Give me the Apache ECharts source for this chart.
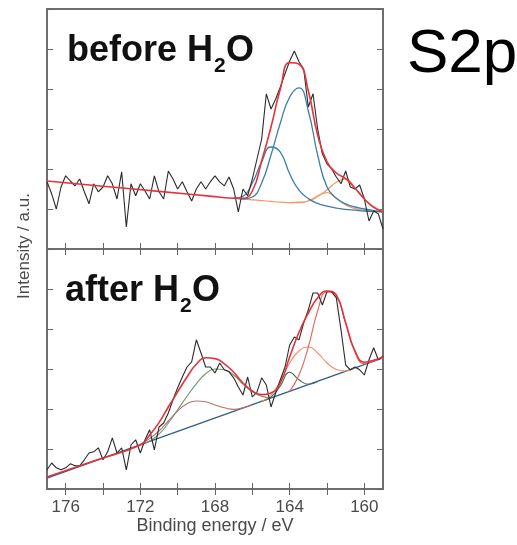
<!DOCTYPE html>
<html><head><meta charset="utf-8">
<script src="https://cdn.jsdelivr.net/npm/echarts@6/dist/echarts.min.js"></script>
<style>html,body{margin:0;padding:0;background:#fff}#c{width:517px;height:545px}</style>
</head><body><div id="c"></div>
<script>
// Binding energy grid of the measured spectra (eV)
const energies = [177,176.75,176.5,176.25,176,175.75,175.5,175.25,175,174.75,174.5,174.25,174,173.75,173.5,173.25,173,172.75,172.5,172.25,172,171.75,171.5,171.25,171,170.75,170.5,170.25,170,169.75,169.5,169.25,169,168.75,168.5,168.25,168,167.75,167.5,167.25,167,166.75,166.5,166.25,166,165.75,165.5,165.25,165,164.75,164.5,164.25,164,163.75,163.5,163.25,163,162.75,162.5,162.25,162,161.75,161.5,161.25,161,160.75,160.5,160.25,160,159.75,159.5,159.25,159];

// "before H2O" measured intensity (a.u.)
const beforeSignal = [1.68,1.38,1.00,1.55,1.83,1.70,1.58,1.75,1.43,1.13,1.63,1.43,1.55,1.83,1.63,1.25,1.93,0.55,1.63,1.33,1.63,1.45,1.25,1.83,1.43,1.25,1.95,1.75,1.50,1.68,1.43,1.20,1.50,1.68,1.50,1.68,1.83,1.68,1.58,1.80,1.50,0.93,1.50,1.33,1.75,2.25,2.75,3.88,3.50,3.75,4.05,4.38,4.70,4.95,4.68,4.50,3.55,3.88,3.00,2.38,2.13,2.00,1.80,1.63,1.95,1.55,1.50,1.60,1.25,0.70,0.95,0.88,0.50];
// "after H2O" measured intensity (a.u.)
const afterSignal = [0.48,0.65,0.53,0.48,0.53,0.63,0.58,0.58,0.73,0.90,0.93,1.03,0.73,0.93,1.28,0.90,1.03,0.48,1.10,1.23,0.90,1.23,1.48,0.98,1.55,1.65,1.90,2.23,2.53,2.80,3.05,3.18,3.73,3.40,3.05,3.05,2.90,3.15,2.98,2.93,2.78,2.55,2.35,2.80,2.30,2.43,2.78,2.60,2.05,2.40,2.73,3.05,3.60,3.80,3.73,4.15,4.48,4.90,4.90,4.60,4.93,4.93,4.78,3.98,3.10,2.98,3.05,2.98,2.85,3.23,3.53,3.23,3.33];

// Fitted curves, [energy, intensity]
const beforeEnvelope = [[177,1.70],[174,1.57],[171,1.44],[168,1.31],[167,1.27],[166.5,1.27],[166,1.45],[165.5,2.20],[165,3.05],[164.5,4.00],[164,4.66],[163.5,4.62],[163,3.95],[162.5,2.85],[162,2.18],[161.5,1.90],[161,1.76],[160.5,1.52],[160,1.25],[159.5,1.04],[159,0.93]];
const beforeBlueMain = [[167,1.27],[166.5,1.25],[166,1.30],[165.5,1.65],[165,2.35],[164.5,3.15],[164,3.80],[163.5,4.03],[163,3.45],[162.5,2.35],[162,1.55],[161.5,1.27],[161,1.13],[160.5,1.05],[160,1.00],[159.5,0.96],[159,0.93]];
const beforeBlueSide = [[167,1.27],[166.5,1.32],[166,1.65],[165.5,2.18],[165,2.55],[164.5,2.42],[164,1.88],[163.5,1.47],[163,1.26],[162.5,1.14],[162,1.07],[161.5,1.02],[161,0.99],[160.5,0.97],[160,0.95],[159.5,0.94],[159,0.93]];
const beforeOrangeA = [[167,1.27],[166.5,1.25],[166,1.23],[165.5,1.21],[165,1.19],[164.5,1.17],[164,1.16],[163.5,1.16],[163,1.20],[162.5,1.33],[162,1.41],[161.5,1.27],[161,1.10],[160.5,1.01],[160,0.97],[159.5,0.95],[159,0.93]];
const beforeOrangeB = [[164,1.16],[163.5,1.17],[163,1.20],[162.5,1.31],[162,1.48],[161.5,1.67],[161,1.75],[160.5,1.52],[160,1.26],[159.5,1.06],[159,0.94]];

const afterEnvelope = [[177,0.30],[174.5,0.70],[172,1.10],[171.5,1.35],[171,1.66],[170.5,2.05],[170,2.43],[169.5,2.80],[169,3.12],[168.5,3.28],[168,3.26],[167.5,3.13],[167,2.92],[166.5,2.65],[166,2.45],[165.5,2.36],[165,2.40],[164.5,2.65],[164,3.30],[163.5,3.92],[163,4.40],[162.5,4.78],[162,4.95],[161.5,4.85],[161,4.15],[160.5,3.45],[160,3.17],[159.5,3.22],[159,3.30]];
const afterBackground = [[177,0.27],[159,3.28]];
const afterGreenHigh = [[172,1.10],[171.5,1.20],[171,1.37],[170.5,1.65],[170,1.98],[169.5,2.32],[169,2.63],[168.5,2.88],[168,3.00],[167.5,2.98],[167,2.85],[166.5,2.62],[166,2.43],[165.5,2.32],[165,2.28]];
const afterBrownHigh = [[172.5,1.02],[172,1.12],[171.5,1.26],[171,1.45],[170.5,1.70],[170,1.95],[169.5,2.13],[169,2.20],[168.5,2.18],[168,2.10],[167.5,2.03],[167,1.99],[166.5,2.03],[166,2.10]];
const afterGreenLow = [[165.5,2.19],[165,2.30],[164.5,2.58],[164,2.92],[163.5,2.73],[163,2.62],[162.5,2.69]];
const afterOrangeLow = [[165.5,2.19],[165,2.35],[164.5,2.70],[164,3.15],[163.5,3.45],[163,3.55],[162.5,3.40],[162,3.15],[161.5,2.99],[161,2.95],[160.5,3.03]];
const afterRedLow = [[164,2.44],[163.5,2.85],[163,3.55],[162.5,4.45],[162,4.93],[161.5,4.83],[161,4.15],[160.5,3.42],[160,3.13],[159.5,3.20],[159,3.28]];

const tickValues = [160,162,164,166,168,170,172,174,176];
const labelValues = [160,164,168,172,176];

const FONT = 'Liberation Sans';
const chart = echarts.init(document.getElementById('c'), null, {renderer:'canvas'});

function xAx(gridIndex, position, showLabel) {
  return {
    type:'value', gridIndex, position, min:159, max:177, inverse:true,
    axisLine:{show:false}, splitLine:{show:false},
    axisTick:{show:true, inside:true, length:6, customValues:tickValues, lineStyle:{color:'#666', width:1}},
    axisLabel:{show:showLabel, customValues:labelValues, fontSize:17, color:'#4a4a4a', margin:10, fontFamily:FONT},
    name: showLabel ? 'Binding energy / eV' : '',
    nameLocation:'middle', nameGap:28,
    nameTextStyle:{fontSize:18, color:'#4a4a4a', fontFamily:FONT}
  };
}
function yAx(gridIndex, position) {
  return {
    type:'value', gridIndex, position, min:0, max:6, interval:1,
    axisLine:{show:false}, splitLine:{show:false},
    axisTick:{show:true, inside:true, length:6, lineStyle:{color:'#666', width:1}},
    axisLabel:{show:false}
  };
}
function pairs(xs, ys){ return xs.map((x,i)=>[x, ys[i]]); }
function line(data, xi, yi, color, width, z, smooth) {
  return {type:'line', data, xAxisIndex:xi, yAxisIndex:yi, showSymbol:false, symbol:'none',
    smooth: smooth ? 0.5 : false,
    lineStyle:{color, width}, z, silent:true, animation:false};
}

const subFont = 'bold 21px "' + FONT + '"';
const bigFont = 'bold 36px "' + FONT + '"';

chart.setOption({
  backgroundColor:'#fff',
  animation:false,
  grid:[
    {left:47, width:336, top:9, height:240, show:true, borderColor:'#6e6e6e', borderWidth:2, backgroundColor:'transparent'},
    {left:47, width:336, top:249, height:240, show:true, borderColor:'#6e6e6e', borderWidth:2, backgroundColor:'transparent'}
  ],
  xAxis:[xAx(0,'bottom',false), xAx(0,'top',false), xAx(1,'bottom',true), xAx(1,'top',false)],
  yAxis:[yAx(0,'left'), yAx(0,'right'), yAx(1,'left'), yAx(1,'right')],
  series:[
    line(beforeOrangeA, 0, 0, '#f39a62', 1.2, 2, true),
    line(beforeOrangeB, 0, 0, '#f39a62', 1.2, 2, true),
    line(beforeBlueSide, 0, 0, '#3d7fa8', 1.3, 2, true),
    line(beforeBlueMain, 0, 0, '#3d7fa8', 1.3, 2, true),
    line(pairs(energies, beforeSignal), 0, 0, '#2a2a2a', 1.1, 3, false),
    line(beforeEnvelope, 0, 0, '#e5323b', 1.6, 4, true),

    line(afterBackground, 2, 2, '#2f5f86', 1.3, 2, false),
    line(afterBrownHigh, 2, 2, '#b9746a', 1.1, 2, true),
    line(afterGreenHigh, 2, 2, '#6f9273', 1.1, 2, true),
    line(afterGreenLow, 2, 2, '#3f6f55', 1.1, 2, true),
    line(afterOrangeLow, 2, 2, '#f0906a', 1.1, 2, true),
    line(afterRedLow, 2, 2, '#ea6058', 1.1, 2, true),
    line(pairs(energies, afterSignal), 2, 2, '#2a2a2a', 1.1, 3, false),
    line(afterEnvelope, 2, 2, '#e5323b', 1.6, 4, true)
  ],
  graphic:[
    {type:'text', x:407, y:55, style:{text:'S2p', font:'62px "' + FONT + '"', fill:'#000', textAlign:'left', textVerticalAlign:'middle'}, z:10},
    {type:'text', x:67, y:51, style:{text:'before H', font:bigFont, fill:'#111', textAlign:'left', textVerticalAlign:'middle'}, z:10},
    {type:'text', x:214, y:66, style:{text:'2', font:subFont, fill:'#111', textAlign:'left', textVerticalAlign:'middle'}, z:10},
    {type:'text', x:226, y:51, style:{text:'O', font:bigFont, fill:'#111', textAlign:'left', textVerticalAlign:'middle'}, z:10},
    {type:'text', x:65, y:291, style:{text:'after H', font:bigFont, fill:'#111', textAlign:'left', textVerticalAlign:'middle'}, z:10},
    {type:'text', x:180, y:306, style:{text:'2', font:subFont, fill:'#111', textAlign:'left', textVerticalAlign:'middle'}, z:10},
    {type:'text', x:192, y:291, style:{text:'O', font:bigFont, fill:'#111', textAlign:'left', textVerticalAlign:'middle'}, z:10},
    {type:'text', x:24, y:246, rotation:Math.PI/2, style:{text:'Intensity / a.u.', font:'17px "' + FONT + '"', fill:'#4a4a4a', textAlign:'center', textVerticalAlign:'middle'}, z:10}
  ]
});
</script></body></html>
